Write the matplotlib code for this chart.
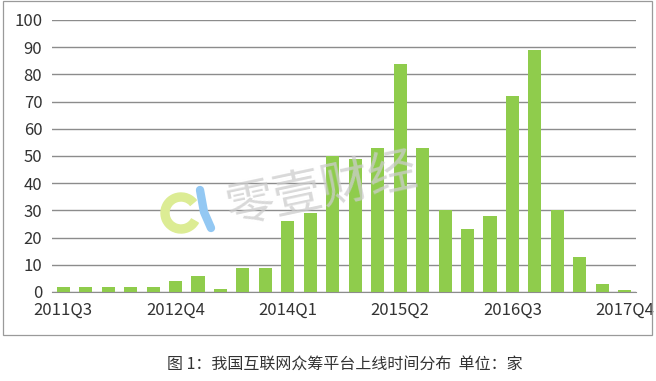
import matplotlib
matplotlib.use('Agg')
import matplotlib.pyplot as plt
from matplotlib.patches import Rectangle, Wedge

plt.rcParams['font.family'] = ['Noto Sans CJK SC', 'DejaVu Sans']

# Data: quarterly number of new crowdfunding platforms
quarters = ['2011Q3', '2011Q4', '2012Q1', '2012Q2', '2012Q3', '2012Q4',
            '2013Q1', '2013Q2', '2013Q3', '2013Q4', '2014Q1', '2014Q2',
            '2014Q3', '2014Q4', '2015Q1', '2015Q2', '2015Q3', '2015Q4',
            '2016Q1', '2016Q2', '2016Q3', '2016Q4', '2017Q1', '2017Q2',
            '2017Q3', '2017Q4']
counts = [2, 2, 2, 2, 2, 4, 6, 1, 9, 9, 26, 29, 50, 49, 53, 84, 53, 30,
          23, 28, 72, 89, 30, 13, 3, 0.6]
caption = '图 1：我国互联网众筹平台上线时间分布  单位：家'

W, H = 656, 381
fig = plt.figure(figsize=(W / 100, H / 100), dpi=100)

# outer frame
fig.patches.append(Rectangle((3 / W, 1 - 335 / H), 649 / W, 334 / H,
                             transform=fig.transFigure, fill=False,
                             edgecolor='#9a9a9a', linewidth=0.9))

ax = fig.add_axes([52 / W, 1 - 292 / H, 584 / W, 272 / H])
x = list(range(len(quarters)))
ax.bar(x, counts, width=0.58, color='#8fcc4c', zorder=3)

ax.set_xlim(-0.5, len(quarters) - 0.5)
ax.set_ylim(0, 100)
ax.set_yticks(range(0, 101, 10))
ax.set_xticks(x[::5])
ax.set_xticklabels(quarters[::5])
ax.yaxis.grid(True, color='#8c8c8c', linewidth=1.0, zorder=0)
ax.set_axisbelow(True)
for s in ['top', 'right', 'left']:
    ax.spines[s].set_visible(False)
ax.spines['bottom'].set_color('#8c8c8c')
ax.tick_params(axis='both', length=0, labelsize=12, colors='#333333')
ax.tick_params(axis='y', pad=7)
ax.tick_params(axis='x', pad=7)

# watermark text
fig.text(322 / W, 1 - 190 / H, '零壹财经', fontsize=35, color='#cccccc',
         alpha=0.75, rotation=12, ha='center', va='center', zorder=10)

# watermark logo
lax = fig.add_axes([155 / W, 1 - 242 / H, 65 / W, 60 / H])
lax.set_xlim(0, 65)
lax.set_ylim(0, 60)
lax.set_aspect('equal')
lax.axis('off')
lax.add_patch(Wedge((26, 29), 20, 40, 330, width=8, color='#dcec94'))
lax.plot([45, 49, 56], [52, 30, 14], color='#93c8f3', linewidth=6,
         solid_capstyle='round')

fig.text(345 / W, 1 - 364 / H, caption, fontsize=11.5, color='#333333',
         ha='center', va='center')

fig.savefig('out.png', dpi=100)
